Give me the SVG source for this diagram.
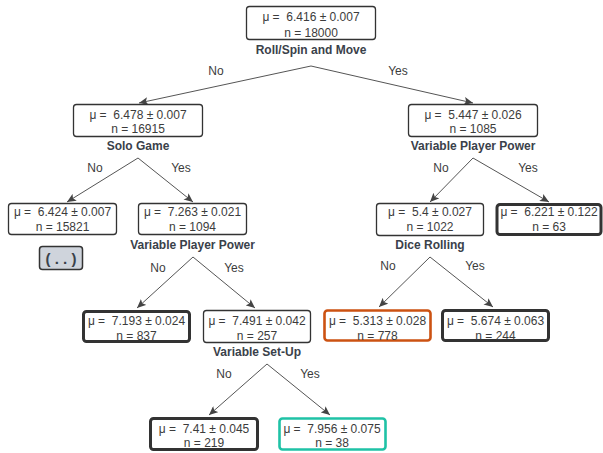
<svg xmlns="http://www.w3.org/2000/svg" width="603" height="453" viewBox="0 0 603 453" xml:space="preserve">
<defs>
<marker id="arr" markerWidth="10" markerHeight="8" refX="9" refY="4" orient="auto" markerUnits="userSpaceOnUse">
<path d="M0,0 L9,4 L0,8 L2,4 Z" fill="#444"/>
</marker>
<style>
.box{fill:#fff;stroke:#333;stroke-width:1.3}
.thick{fill:#fff;stroke:#333;stroke-width:3}
.orange{fill:#fff;stroke:#cc5212;stroke-width:2.6}
.teal{fill:#fff;stroke:#1fc2a6;stroke-width:2.6}
.more{fill:#cfd4dc;stroke:#333;stroke-width:1.5}
text{white-space:pre}
.t{font-family:"Liberation Sans",Arial,sans-serif;font-size:12px;fill:#3c3c3c;text-anchor:middle}
.b{font-family:"Liberation Sans",Arial,sans-serif;font-size:12px;font-weight:bold;fill:#3a414a;text-anchor:middle}
.dots{font-family:"Liberation Sans",Arial,sans-serif;font-size:15px;font-weight:bold;fill:#3a414a;text-anchor:middle}
.c{stroke:#555;stroke-width:1;fill:none;marker-end:url(#arr)}
</style>
</defs>
<rect width="603" height="453" fill="#fff"/>
<g id="connectors">
<path class="c" d="M311,66 L139,103"/>
<path class="c" d="M311,66 L473,103"/>
<path class="c" d="M138,158 L67,202"/>
<path class="c" d="M138,158 L193,202"/>
<path class="c" d="M473,158 L430,202"/>
<path class="c" d="M473,158 L549,202"/>
<path class="c" d="M193,257 L137,308"/>
<path class="c" d="M193,257 L255,308"/>
<path class="c" d="M430,257 L379,307"/>
<path class="c" d="M430,257 L493,307"/>
<path class="c" d="M267,364 L209,415"/>
<path class="c" d="M267,364 L330,415"/>
<text class="t" x="216" y="75">No</text>
<text class="t" x="398" y="75">Yes</text>
<text class="t" x="95" y="172">No</text>
<text class="t" x="181" y="172">Yes</text>
<text class="t" x="441" y="172">No</text>
<text class="t" x="528" y="172">Yes</text>
<text class="t" x="158" y="272">No</text>
<text class="t" x="234" y="272">Yes</text>
<text class="t" x="388" y="270">No</text>
<text class="t" x="475" y="270">Yes</text>
<text class="t" x="224" y="378">No</text>
<text class="t" x="310" y="378">Yes</text>
</g>
<g id="root">
<rect class="box" x="246.5" y="6.5" width="129" height="33" rx="3"/>
<text class="t" x="311" y="21">μ =  6.416 ± 0.007</text>
<text class="t" x="311" y="37">n = 18000</text>
<text class="b" x="311" y="54">Roll/Spin and Move</text>
</g>
<g id="solo">
<rect class="box" x="73.5" y="104.5" width="129" height="32" rx="3"/>
<text class="t" x="138" y="118.5">μ =  6.478 ± 0.007</text>
<text class="t" x="138" y="133">n = 16915</text>
<text class="b" x="138" y="150">Solo Game</text>
</g>
<g id="vpp1">
<rect class="box" x="408.5" y="104.5" width="129" height="32" rx="3"/>
<text class="t" x="473" y="118.5">μ =  5.447 ± 0.026</text>
<text class="t" x="473" y="133">n = 1085</text>
<text class="b" x="473" y="150">Variable Player Power</text>
</g>
<g id="n15821">
<rect class="box" x="8.5" y="203.5" width="108" height="31" rx="3"/>
<text class="t" x="62.5" y="216">μ =  6.424 ± 0.007</text>
<text class="t" x="62.5" y="231">n = 15821</text>
</g>
<g id="more">
<rect class="more" x="39.5" y="246.5" width="43" height="23" rx="3"/>
<text class="dots" x="61" y="263.5">( . . )</text>
</g>
<g id="vpp2">
<rect class="box" x="138.5" y="203.5" width="108" height="31" rx="3"/>
<text class="t" x="192.5" y="216">μ =  7.263 ± 0.021</text>
<text class="t" x="192.5" y="231">n = 1094</text>
<text class="b" x="192.5" y="249">Variable Player Power</text>
</g>
<g id="dice">
<rect class="box" x="376.5" y="203.5" width="107" height="32" rx="3"/>
<text class="t" x="430" y="216">μ =  5.4 ± 0.027</text>
<text class="t" x="430" y="231">n = 1022</text>
<text class="b" x="430" y="249">Dice Rolling</text>
</g>
<g id="n63">
<rect class="thick" x="497" y="204.5" width="104" height="30" rx="3"/>
<text class="t" x="549" y="216">μ =  6.221 ± 0.122</text>
<text class="t" x="549" y="231">n = 63</text>
</g>
<g id="n837">
<rect class="thick" x="83.5" y="311.5" width="106" height="30" rx="3"/>
<text class="t" x="136.5" y="325">μ =  7.193 ± 0.024</text>
<text class="t" x="136.5" y="339.5">n = 837</text>
</g>
<g id="setup">
<rect class="box" x="203.5" y="310.5" width="107" height="32" rx="3"/>
<text class="t" x="257" y="325">μ =  7.491 ± 0.042</text>
<text class="t" x="257" y="339.5">n = 257</text>
<text class="b" x="257" y="356">Variable Set-Up</text>
</g>
<g id="n778">
<rect class="orange" x="324.5" y="310.5" width="106" height="30" rx="3"/>
<text class="t" x="377.5" y="325">μ =  5.313 ± 0.028</text>
<text class="t" x="377.5" y="339.5">n = 778</text>
</g>
<g id="n244">
<rect class="thick" x="442.5" y="310.5" width="106" height="30" rx="3"/>
<text class="t" x="495.5" y="325">μ =  5.674 ± 0.063</text>
<text class="t" x="495.5" y="339.5">n = 244</text>
</g>
<g id="n219">
<rect class="thick" x="150.5" y="418.5" width="107" height="31" rx="3"/>
<text class="t" x="204" y="432.5">μ =  7.41 ± 0.045</text>
<text class="t" x="204" y="447">n = 219</text>
</g>
<g id="n38">
<rect class="teal" x="279.5" y="418.5" width="106" height="31" rx="3"/>
<text class="t" x="332" y="432.5">μ =  7.956 ± 0.075</text>
<text class="t" x="332" y="447">n = 38</text>
</g>
</svg>
